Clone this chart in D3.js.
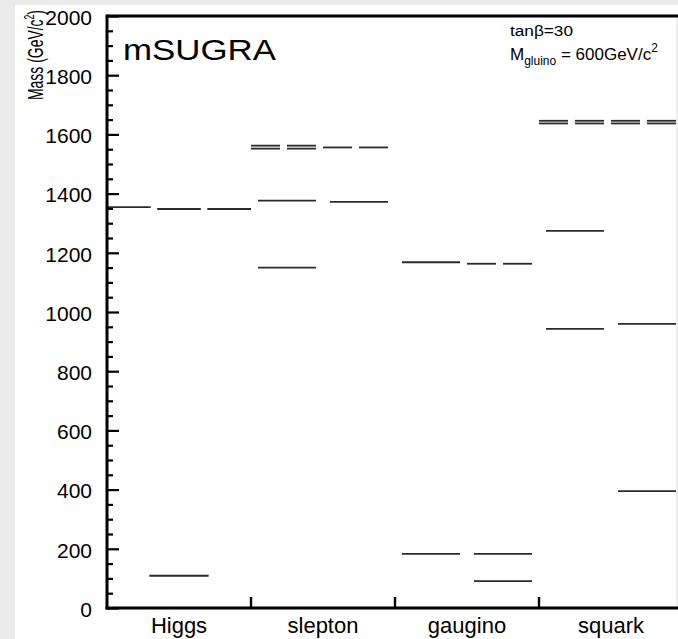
<!DOCTYPE html>
<html>
<head>
<meta charset="utf-8">
<script src="https://cdn.jsdelivr.net/npm/d3@7"></script>
<style>
  html, body { margin: 0; padding: 0; background: #fff; }
  svg { display: block; }
  text { font-family: "Liberation Sans", Arial, Helvetica, sans-serif; fill: #000; }
</style>
</head>
<body>
<svg id="chart" width="678" height="639"></svg>
<script>
// Sparticle groups along the x axis
const groups = ["Higgs", "slepton", "gaugino", "squark"];

// Mass levels in GeV/c^2: [mass, sub-columns in the group, sub-column index]
const higgsLevels = [
  [1354, 3, 0], [1348, 3, 1], [1348, 3, 2],
  [109, 1, 0]
];
const sleptonLevels = [
  [1562, 4, 0], [1552, 4, 0], [1562, 4, 1], [1552, 4, 1],
  [1556, 4, 2], [1556, 4, 3],
  [1376, 2, 0], [1372, 2, 1],
  [1150, 2, 0]
];
const gauginoLevels = [
  [1168, 2, 0], [1163, 4, 2], [1163, 4, 3],
  [183, 2, 0], [183, 2, 1],
  [91, 2, 1]
];
const squarkLevels = [
  [1646, 4, 0], [1637, 4, 0], [1646, 4, 1], [1637, 4, 1],
  [1646, 4, 2], [1637, 4, 2], [1646, 4, 3], [1637, 4, 3],
  [1274, 2, 0],
  [943, 2, 0], [960, 2, 1],
  [395, 2, 1]
];

const yMajorTicks = [0, 200, 400, 600, 800, 1000, 1200, 1400, 1600, 1800, 2000];
const yMinorStep = 50;
const yMax = 2000;

const levelsByGroup = {
  Higgs: higgsLevels,
  slepton: sleptonLevels,
  gaugino: gauginoLevels,
  squark: squarkLevels
};

// ---------------------------------------------------------------------------
const W = 678, H = 639;
const plot = { left: 107, top: 16, bottom: 608, groupWidth: 144 };
plot.right = plot.left + plot.groupWidth * groups.length;

const svg = d3.select("#chart");

// page backdrop: pale strip on the left and top edges
svg.append("rect").attr("width", W).attr("height", H).attr("fill", "#ebebeb");
svg.append("rect").attr("x", 15).attr("y", 5).attr("width", W - 15).attr("height", H - 5).attr("fill", "#fff");

const x = d3.scaleBand().domain(groups).range([plot.left, plot.right]).padding(0);
const y = d3.scaleLinear().domain([0, yMax]).range([plot.bottom, plot.top]);

// sub-column layout inside one group, keyed by the number of sub-columns
const subLayout = {
  1: { inner: 0, outer: 0.712, align: 0.5 },
  2: { inner: 0.194, outer: 0.097, align: 0.5 },
  3: { inner: 0.13, outer: 0, align: 0 },
  4: { inner: 0.194, outer: 0.097, align: 0 }
};
function subScale(n) {
  const c = subLayout[n];
  return d3.scaleBand()
    .domain(d3.range(n))
    .range([0, x.bandwidth()])
    .paddingInner(c.inner)
    .paddingOuter(c.outer)
    .align(c.align);
}

const levels = [];
groups.forEach(g => {
  levelsByGroup[g].forEach(([mass, n, i]) => levels.push({ group: g, mass, n, i }));
});

svg.append("clipPath").attr("id", "plotclip")
  .append("rect").attr("x", plot.left).attr("y", plot.top - 2)
  .attr("width", W - plot.left).attr("height", plot.bottom - plot.top + 4);

// mass levels
svg.append("g").attr("clip-path", "url(#plotclip)")
  .selectAll("line.level")
  .data(levels)
  .join("line")
  .attr("class", "level")
  .attr("x1", d => x(d.group) + subScale(d.n)(d.i))
  .attr("x2", d => x(d.group) + subScale(d.n)(d.i) + subScale(d.n).bandwidth())
  .attr("y1", d => y(d.mass))
  .attr("y2", d => y(d.mass))
  .attr("stroke", "#2b2b2b")
  .attr("stroke-width", 1.8);

// faint right border
svg.append("line")
  .attr("x1", 677).attr("x2", 677)
  .attr("y1", plot.top).attr("y2", plot.bottom)
  .attr("stroke", "#dcdcdc").attr("stroke-width", 1);

// frame: top
svg.append("line")
  .attr("x1", plot.left).attr("x2", W)
  .attr("y1", plot.top).attr("y2", plot.top)
  .attr("stroke", "#000").attr("stroke-width", 2.8);

// y axis (major ticks labelled, minor ticks every 50)
const yMinor = d3.range(0, yMax + 1, yMinorStep).filter(v => !yMajorTicks.includes(v));
const yAxis = d3.axisRight(y).tickValues(yMajorTicks).tickSize(12).tickFormat("");
const gy = svg.append("g").attr("transform", `translate(${plot.left},0)`).call(yAxis);
gy.select(".domain").remove();
gy.selectAll(".tick line").attr("stroke", "#000").attr("stroke-width", 2.2);
const yAxisMinor = d3.axisRight(y).tickValues(yMinor).tickSize(6).tickFormat("");
const gym = svg.append("g").attr("transform", `translate(${plot.left},0)`).call(yAxisMinor);
gym.select(".domain").remove();
gym.selectAll(".tick line").attr("stroke", "#000").attr("stroke-width", 2.2);

svg.append("line")
  .attr("x1", plot.left).attr("x2", plot.left)
  .attr("y1", plot.top - 1.4).attr("y2", plot.bottom + 1.4)
  .attr("stroke", "#000").attr("stroke-width", 3);

// tick labels
svg.append("g").selectAll("text.ylab")
  .data(yMajorTicks)
  .join("text")
  .attr("class", "ylab")
  .attr("x", 92)
  .attr("y", d => y(d))
  .attr("dy", "0.42em")
  .attr("text-anchor", "end")
  .attr("font-size", 21)
  .text(d => d);

// x axis: ticks at group boundaries
const boundaries = groups.slice(1).map(g => x(g));
svg.append("g").selectAll("line.xtick")
  .data(boundaries)
  .join("line")
  .attr("x1", d => d).attr("x2", d => d)
  .attr("y1", plot.bottom).attr("y2", plot.bottom - 11)
  .attr("stroke", "#000").attr("stroke-width", 2.4);

svg.append("line")
  .attr("x1", plot.left - 1.5).attr("x2", W)
  .attr("y1", plot.bottom).attr("y2", plot.bottom)
  .attr("stroke", "#000").attr("stroke-width", 2.8);

svg.append("g").selectAll("text.xlab")
  .data(groups)
  .join("text")
  .attr("class", "xlab")
  .attr("x", d => x(d) + x.bandwidth() / 2)
  .attr("y", 633)
  .attr("text-anchor", "middle")
  .attr("font-size", 22)
  .text(d => d);

// y axis title, squeezed along its reading direction
const yt = svg.append("text")
  .attr("transform", "translate(43,10) rotate(-90) scale(0.62,1)")
  .attr("text-anchor", "end")
  .attr("font-size", 22.5);
yt.append("tspan").text("Mass (GeV/c");
yt.append("tspan").attr("font-size", 14).attr("dy", -9).text("2");
yt.append("tspan").attr("dy", 9).text(")");

// model label
svg.append("text")
  .attr("x", 123).attr("y", 60)
  .attr("font-size", 30)
  .attr("textLength", 153)
  .attr("lengthAdjust", "spacingAndGlyphs")
  .text("mSUGRA");

// parameter box
svg.append("text")
  .attr("x", 510).attr("y", 36)
  .attr("font-size", 14)
  .attr("textLength", 63)
  .attr("lengthAdjust", "spacingAndGlyphs")
  .text("tanβ=30");

const mg = svg.append("text")
  .attr("x", 510).attr("y", 60)
  .attr("font-size", 17);
mg.append("tspan").text("M");
mg.append("tspan").attr("font-size", 12).attr("dy", 5).text("gluino");
mg.append("tspan").attr("dy", -5).text(" = 600GeV/c");
mg.append("tspan").attr("font-size", 12).attr("dy", -8).text("2");
</script>
</body>
</html>
